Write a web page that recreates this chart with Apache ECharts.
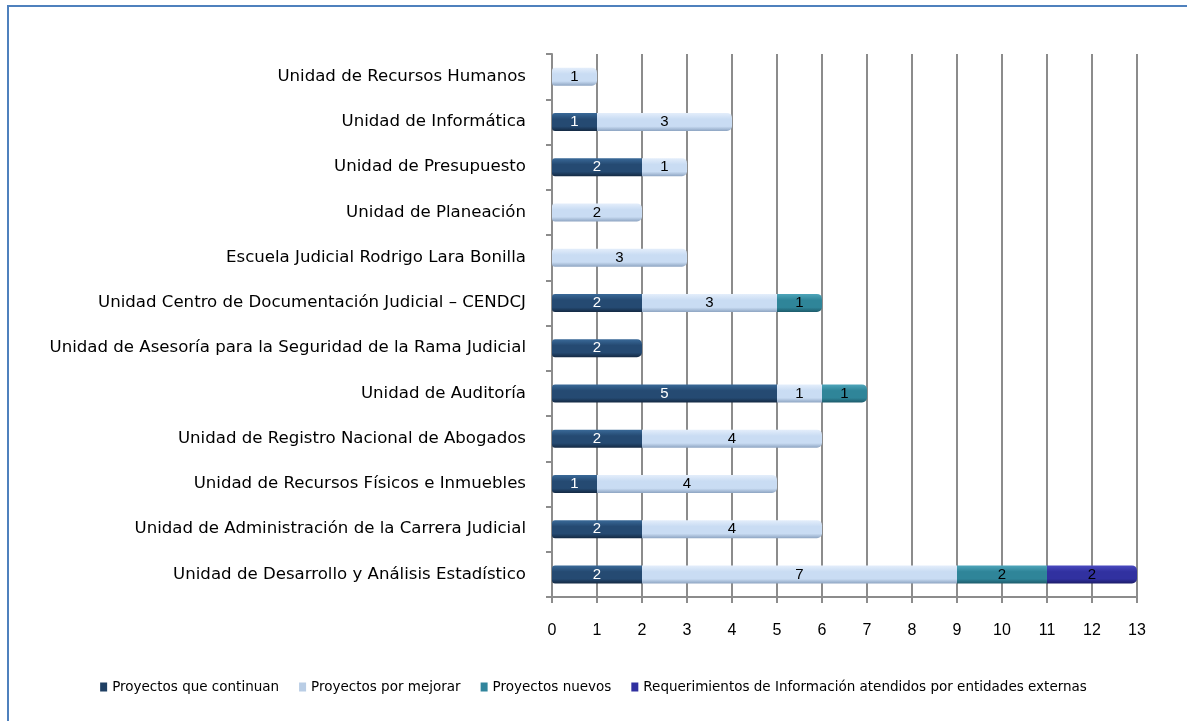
<!DOCTYPE html>
<html>
<head>
<meta charset="utf-8">
<script src="https://cdn.jsdelivr.net/npm/echarts@6/dist/echarts.min.js"></script>
<style>
  html, body { margin: 0; padding: 0; background: #ffffff; }
  #frame { position: absolute; left: 7px; top: 5px; width: 1180px; height: 716px;
           border-top: 2px solid #4f81bd; border-left: 2px solid #4f81bd; box-sizing: border-box; }
  #chart { position: absolute; left: 0; top: 0; width: 1187px; height: 721px; }
</style>
</head>
<body>
<div id="frame"></div>
<div id="chart"></div>
<script>
// Units, listed top to bottom
const categories = [
  'Unidad de Recursos Humanos',
  'Unidad de Informática',
  'Unidad de Presupuesto',
  'Unidad de Planeación',
  'Escuela Judicial Rodrigo Lara Bonilla',
  'Unidad Centro de Documentación Judicial – CENDCJ',
  'Unidad de Asesoría para la Seguridad de la Rama Judicial',
  'Unidad de Auditoría',
  'Unidad de Registro Nacional de Abogados',
  'Unidad de Recursos Físicos e Inmuebles',
  'Unidad de Administración de la Carrera Judicial',
  'Unidad de Desarrollo y Análisis Estadístico'
];
const seriesNames = [
  'Proyectos que continuan',
  'Proyectos por mejorar',
  'Proyectos nuevos',
  'Requerimientos de Información atendidos por entidades externas'
];
const continuan   = [0, 1, 2, 0, 0, 2, 2, 5, 2, 1, 2, 2];
const mejorar     = [1, 3, 1, 2, 3, 3, 0, 1, 4, 4, 4, 7];
const nuevos      = [0, 0, 0, 0, 0, 1, 0, 1, 0, 0, 0, 2];
const externos    = [0, 0, 0, 0, 0, 0, 0, 0, 0, 0, 0, 2];
const xTicks = [0, 1, 2, 3, 4, 5, 6, 7, 8, 9, 10, 11, 12, 13];

// Vertical gradient giving each bar a rounded, tube-like look
function cyl(top, mid, bottom) {
  return new echarts.graphic.LinearGradient(0, 0, 0, 1, [
    { offset: 0, color: top },
    { offset: 0.35, color: mid },
    { offset: 0.75, color: mid },
    { offset: 1, color: bottom }
  ]);
}
const styles = [
  { fill: cyl('#3a6a99', '#254a72', '#142a44'), legend: '#1f3f63', label: '#ffffff' },
  { fill: cyl('#e4eefb', '#c9dcf3', '#8fa6c3'), legend: '#b9cde5', label: '#000000' },
  { fill: cyl('#4fa6bb', '#2f8599', '#1d5c6c'), legend: '#31859c', label: '#000000' },
  { fill: cyl('#4a4ac0', '#3131a0', '#1c1c6a'), legend: '#3030a0', label: '#000000' }
];
const values = [continuan, mejorar, nuevos, externos];

// Round the outer ends of each stacked row
function segment(si, ci) {
  const v = values[si][ci];
  if (!v) return null;
  let first = true, last = true;
  for (let k = 0; k < si; k++) if (values[k][ci]) first = false;
  for (let k = si + 1; k < values.length; k++) if (values[k][ci]) last = false;
  return { value: v, itemStyle: { borderRadius: [first ? 3 : 0, last ? 5 : 0, last ? 5 : 0, first ? 3 : 0] } };
}

const chart = echarts.init(document.getElementById('chart'), null, { renderer: 'canvas' });
chart.setOption({
  animation: false,
  textStyle: { fontFamily: 'DejaVu Sans, Liberation Sans, sans-serif' },
  grid: { left: 552, top: 54, width: 585, height: 543, containLabel: false },
  xAxis: {
    type: 'value', min: 0, max: 13, interval: 1,
    axisLine: { show: true, lineStyle: { color: '#8c8c8c', width: 2 } },
    axisTick: { show: true, length: 6, lineStyle: { color: '#8c8c8c', width: 2 } },
    axisLabel: { color: '#000', fontSize: 16, margin: 26, fontFamily: 'Liberation Sans, Arial, sans-serif',
                 formatter: v => xTicks.includes(v) ? String(v) : '' },
    splitLine: { show: true, lineStyle: { color: '#8c8c8c', width: 2 } }
  },
  yAxis: {
    type: 'category', data: categories, inverse: true,
    axisLine: { show: true, lineStyle: { color: '#8c8c8c', width: 2 } },
    axisTick: { show: true, length: 6, lineStyle: { color: '#8c8c8c', width: 2 } },
    axisLabel: { color: '#000', fontSize: 16.6, margin: 26 }
  },
  legend: {
    bottom: 22, left: 'center', itemWidth: 7, itemHeight: 9, itemGap: 20,
    icon: 'rect', textStyle: { color: '#000', fontSize: 13.5 },
    data: seriesNames.map((n, i) => ({ name: n, itemStyle: { color: styles[i].legend } }))
  },
  series: values.map((arr, i) => ({
    name: seriesNames[i], type: 'bar', stack: 'total', barWidth: 18,
    data: arr.map((v, ci) => segment(i, ci)),
    itemStyle: { color: styles[i].fill },
    label: { show: true, position: 'inside', color: styles[i].label, fontSize: 15,
             fontFamily: 'Liberation Sans, Arial, sans-serif',
             formatter: p => p.value ? String(p.value) : '' }
  }))
});
</script>
</body>
</html>
